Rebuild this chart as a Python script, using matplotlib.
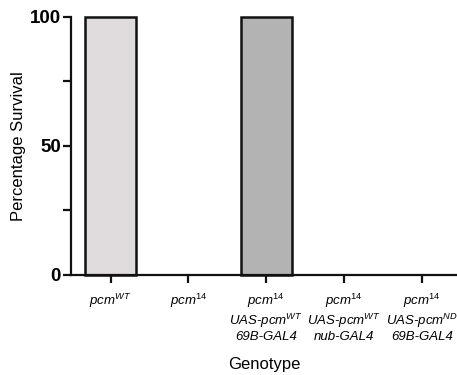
import matplotlib
matplotlib.use("Agg")
import matplotlib.pyplot as plt
from matplotlib.ticker import MultipleLocator

plt.rcParams['font.family'] = ['Liberation Sans', 'DejaVu Sans']
plt.rcParams['mathtext.fontset'] = 'custom'
plt.rcParams['mathtext.rm'] = 'Liberation Sans'
plt.rcParams['mathtext.it'] = 'Liberation Sans:italic'
plt.rcParams['mathtext.default'] = 'it'

# data
genotypes = [
    "pcm$^{WT}$",
    "pcm$^{14}$",
    "pcm$^{14}$\nUAS-pcm$^{WT}$\n69B-GAL4",
    "pcm$^{14}$\nUAS-pcm$^{WT}$\nnub-GAL4",
    "pcm$^{14}$\nUAS-pcm$^{ND}$\n69B-GAL4",
]
survival = [100, 0, 100, 0, 0]
bar_colors = ["#e0dcde", "#e0dcde", "#b3b3b3", "#b3b3b3", "#b3b3b3"]

fig = plt.figure(figsize=(4.57, 3.75), dpi=100)
ax = fig.add_axes([0.155, 0.267, 0.845, 0.688])

x = list(range(len(genotypes)))
bars = ax.bar(x, survival, width=0.66, color=bar_colors, edgecolor="#111111", linewidth=1.8)
for b, v in zip(bars, survival):
    if v > 0:
        b.set_clip_on(False)  # let the top edge show above the axis
    else:
        b.set_visible(False)

ax.set_xlim(-0.51, 4.45)
ax.set_ylim(0, 100)
ax.set_xticks(x)
ax.set_xticklabels(genotypes, fontsize=9.5, fontstyle="italic", linespacing=1.15)
ax.set_yticks([0, 50, 100])
ax.set_yticklabels(["0", "50", "100"], fontsize=13.5, fontweight="bold")
ax.yaxis.set_minor_locator(MultipleLocator(25))

for s in ["top", "right"]:
    ax.spines[s].set_visible(False)
for s in ["left", "bottom"]:
    ax.spines[s].set_linewidth(1.6)
    ax.spines[s].set_color("#111111")
ax.spines["bottom"].set_zorder(5)

ax.tick_params(axis="both", which="major", direction="out", length=6, width=1.6, color="#111111")
ax.tick_params(axis="y", which="minor", direction="out", length=6, width=1.6, color="#111111")
ax.tick_params(axis="x", pad=6)
ax.tick_params(axis="y", pad=1)

ax.set_ylabel("Percentage Survival", fontsize=12, labelpad=3)
ax.set_xlabel("Genotype", fontsize=12, labelpad=10)

fig.savefig("out.png", dpi=100)
